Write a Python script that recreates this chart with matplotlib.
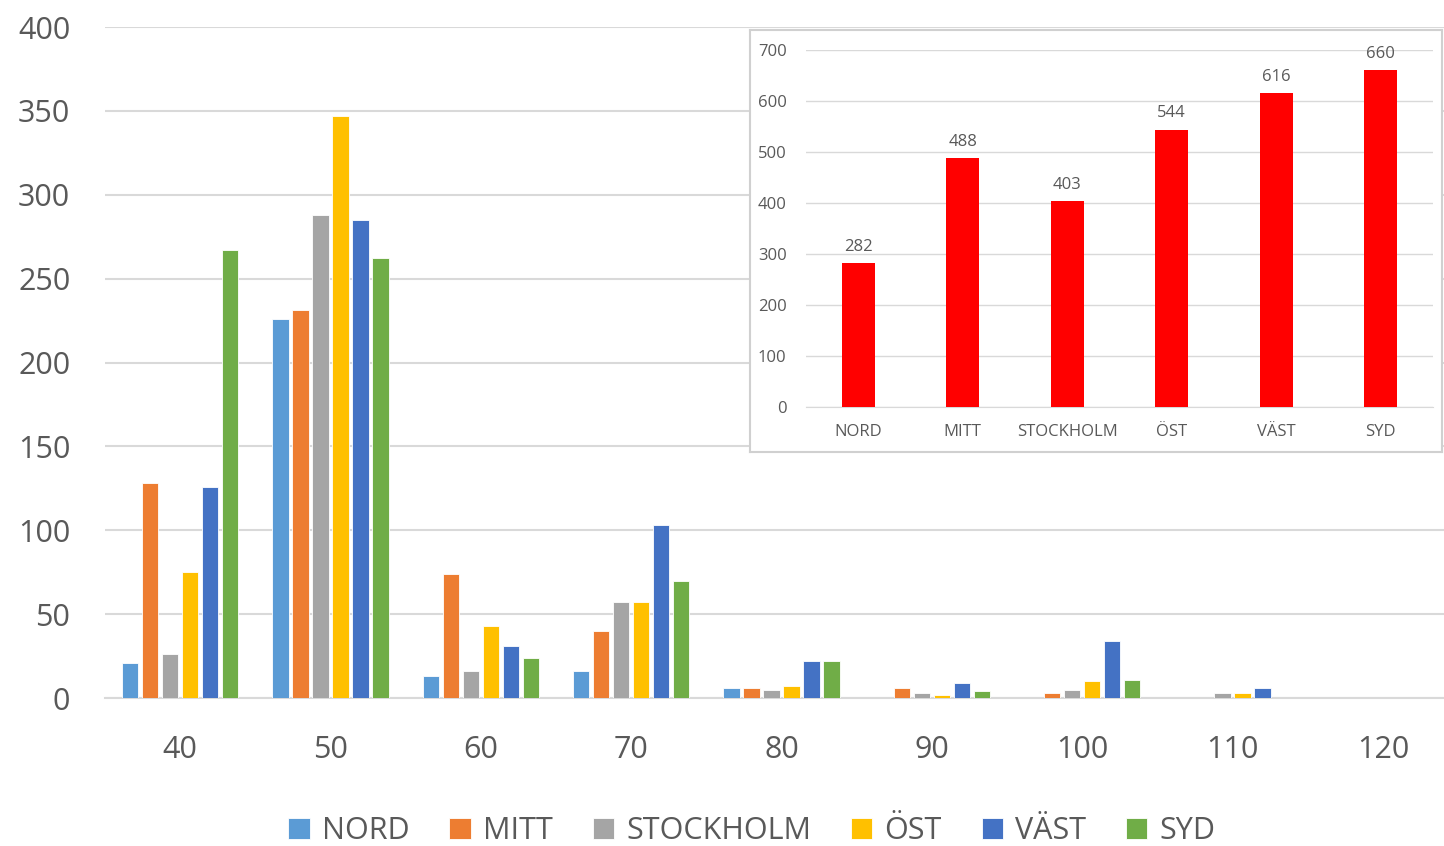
from matplotlib import pyplot as plt
import numpy as np

plt.rcParams['font.family'] = ['Open Sans', 'DejaVu Sans']

# speed classes on the x axis
speeds = ['40', '50', '60', '70', '80', '90', '100', '110', '120']
regions = ['NORD', 'MITT', 'STOCKHOLM', 'ÖST', 'VÄST', 'SYD']

nord = [21, 226, 13, 16, 6, 0, 0, 0, 0]
mitt = [128, 231, 74, 40, 6, 6, 3, 0, 0]
stockholm = [26, 288, 16, 57, 5, 3, 5, 3, 0]
ost = [75, 347, 43, 57, 7, 2, 10, 3, 0]
vast = [126, 285, 31, 103, 22, 9, 34, 6, 0]
syd = [267, 262, 24, 70, 22, 4, 11, 0, 0]

# totals per region for the small chart
totals = [282, 488, 403, 544, 616, 660]

colors = ['#5B9BD5', '#ED7D31', '#A5A5A5', '#FFC000', '#4472C4', '#70AD47']
grey_txt = '#595959'
grid_col = '#D9D9D9'

fig = plt.figure(figsize=(14.44, 8.46), dpi=100)

# main grouped bar chart
ax = fig.add_axes([105/1444, 1-698/846, 1353/1444, 671/846])
x = np.arange(len(speeds))
pitch = 0.133
width = 0.108
series = [nord, mitt, stockholm, ost, vast, syd]
for i, (name, vals) in enumerate(zip(regions, series)):
    ax.bar(x + (i - 2.5)*pitch, vals, width, color=colors[i], label=name,
           edgecolor='white', linewidth=0.6, zorder=3)

ax.set_xlim(-0.5, 8.5)
ax.set_ylim(0, 400)
ax.set_yticks(range(0, 401, 50))
ax.set_xticks(x)
ax.set_xticklabels(speeds)
ax.yaxis.grid(True, color=grid_col, linewidth=1.5, zorder=0)
for s in ['top', 'right', 'left']:
    ax.spines[s].set_visible(False)
ax.spines['bottom'].set_color(grid_col)
ax.spines['bottom'].set_linewidth(1.5)
ax.tick_params(axis='y', length=0, pad=25, labelsize=22, labelcolor=grey_txt)
ax.tick_params(axis='x', length=0, pad=27, labelsize=22, labelcolor=grey_txt)

fig.legend(loc='center', bbox_to_anchor=(752/1444, 1-831/846), ncol=6,
           frameon=False, fontsize=22, labelcolor=grey_txt,
           handlelength=0.7, handleheight=0.7, handletextpad=0.4, columnspacing=1.3)

# inset box with region totals
box = fig.add_axes([750/1444, 1-452/846, 692/1444, 422/846])
box.set_xticks([])
box.set_yticks([])
for s in box.spines.values():
    s.set_color('#D0D0D0')
    s.set_linewidth(1.5)
box.set_zorder(5)

ins = fig.add_axes([806/1444, 1-407/846, 627/1444, 357/846])
ins.set_zorder(6)
ins.patch.set_alpha(0)
xi = np.arange(len(regions))
bars = ins.bar(xi, totals, 0.32, color='#FF0000', zorder=3)
for b, v in zip(bars, totals):
    ins.text(b.get_x() + b.get_width()/2, v + 16, str(v), ha='center', va='bottom',
             fontsize=12, color=grey_txt)
ins.set_xlim(-0.5, 5.5)
ins.set_ylim(0, 700)
ins.set_yticks(range(0, 701, 100))
ins.set_xticks(xi)
ins.set_xticklabels(regions)
ins.yaxis.grid(True, color=grid_col, linewidth=1, zorder=0)
for s in ['top', 'right', 'left']:
    ins.spines[s].set_visible(False)
ins.spines['bottom'].set_color(grid_col)
ins.tick_params(axis='y', length=0, pad=14, labelsize=12, labelcolor=grey_txt)
ins.tick_params(axis='x', length=0, pad=12, labelsize=12, labelcolor=grey_txt)

plt.savefig('out.png', dpi=100)
